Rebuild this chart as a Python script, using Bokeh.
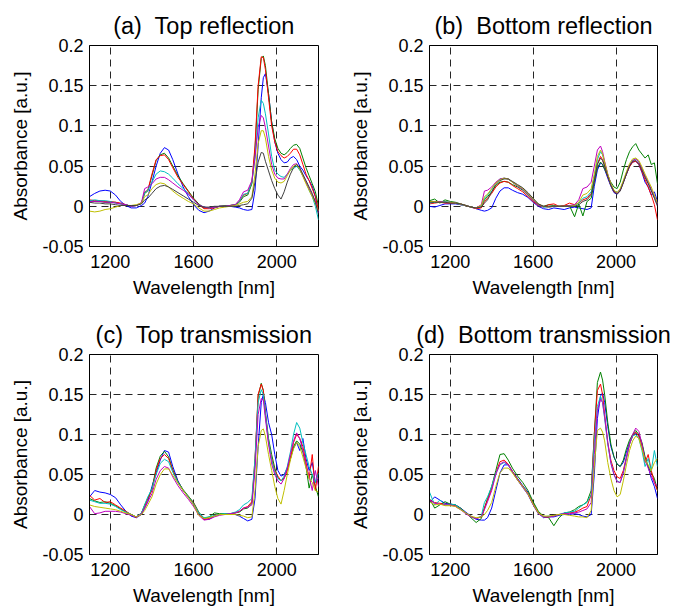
from bokeh.plotting import figure
from bokeh.layouts import gridplot
from bokeh.models import Range1d, FixedTicker
from bokeh.embed import file_html
from bokeh.resources import INLINE

# ---------------- data ----------------
WAVELENGTH = [1100, 1125, 1150, 1175, 1200, 1225, 1250, 1275, 1300, 1325,
              1350, 1365, 1380, 1400, 1420, 1440, 1460, 1480, 1500, 1525,
              1550, 1575, 1600, 1625, 1650, 1675, 1700, 1725, 1750, 1775,
              1800, 1820, 1840, 1860, 1880, 1895, 1910, 1925, 1935, 1945,
              1960, 1975, 1990, 2005, 2020, 2035, 2050, 2065, 2080, 2095,
              2110, 2125, 2140, 2155, 2170, 2185, 2200]

X_TICKS = [1200, 1600, 2000]
Y_TICKS = [-0.05, 0, 0.05, 0.1, 0.15, 0.2]
Y_TICK_LABELS = ["-0.05", "0", "0.05", "0.1", "0.15", "0.2"]
TITLES = ["(a)\u00a0 Top reflection", "(b)\u00a0 Bottom reflection",
          "(c)\u00a0 Top transmission", "(d)\u00a0 Bottom transmission"]

# (a) Top reflection
A_BLUE = [0.012, 0.016, 0.019, 0.020, 0.019, 0.014, 0.006, 0.001, -0.002, -0.002,
          0.001, 0.004, 0.012, 0.030, 0.050, 0.066, 0.073, 0.070, 0.058, 0.040,
          0.024, 0.012, 0.002, -0.005, -0.008, -0.006, -0.002, 0.000, 0.000, 0.000,
          -0.001, -0.002, -0.004, -0.005, -0.004, 0.020, 0.075, 0.135, 0.160, 0.165,
          0.140, 0.105, 0.080, 0.066, 0.058, 0.054, 0.055, 0.060, 0.062, 0.058,
          0.050, 0.045, 0.038, 0.032, 0.025, 0.012, -0.008]
A_GREEN = [0.007, 0.006, 0.006, 0.005, 0.005, 0.005, 0.003, 0.002, 0.000, 0.001,
           0.004, 0.016, 0.019, 0.038, 0.057, 0.064, 0.066, 0.060, 0.050, 0.038,
           0.028, 0.019, 0.010, 0.003, -0.002, -0.002, -0.001, 0.000, 0.001, 0.001,
           0.002, 0.005, 0.012, 0.014, 0.028, 0.070, 0.145, 0.184, 0.187, 0.175,
           0.140, 0.105, 0.084, 0.072, 0.066, 0.064, 0.067, 0.072, 0.076, 0.077,
           0.072, 0.060, 0.048, 0.038, 0.028, 0.018, 0.000]
A_RED = [0.008, 0.007, 0.007, 0.006, 0.006, 0.005, 0.004, 0.002, 0.000, 0.001,
         0.004, 0.018, 0.020, 0.040, 0.058, 0.063, 0.064, 0.058, 0.048, 0.036,
         0.027, 0.018, 0.009, 0.002, -0.003, -0.003, -0.002, 0.000, 0.000, 0.001,
         0.002, 0.006, 0.014, 0.016, 0.030, 0.075, 0.150, 0.186, 0.185, 0.170,
         0.135, 0.100, 0.080, 0.068, 0.063, 0.060, 0.062, 0.066, 0.071, 0.071,
         0.064, 0.052, 0.040, 0.032, 0.022, 0.012, -0.005]
A_CYAN = [0.007, 0.008, 0.007, 0.007, 0.006, 0.004, 0.003, 0.002, 0.000, 0.001,
          0.004, 0.017, 0.020, 0.030, 0.040, 0.044, 0.043, 0.040, 0.035, 0.028,
          0.022, 0.016, 0.008, 0.002, -0.001, -0.002, -0.001, 0.000, 0.000, 0.001,
          0.002, 0.006, 0.015, 0.016, 0.030, 0.060, 0.110, 0.132, 0.128, 0.115,
          0.090, 0.062, 0.045, 0.040, 0.037, 0.036, 0.040, 0.045, 0.047, 0.050,
          0.045, 0.038, 0.030, 0.020, 0.012, 0.000, -0.017]
A_MAGENTA = [0.006, 0.006, 0.006, 0.005, 0.005, 0.004, 0.003, 0.002, 0.000, 0.001,
             0.005, 0.022, 0.024, 0.028, 0.034, 0.036, 0.036, 0.033, 0.029, 0.024,
             0.020, 0.015, 0.008, 0.002, -0.001, -0.002, -0.001, 0.000, 0.000, 0.001,
             0.002, 0.008, 0.018, 0.020, 0.032, 0.060, 0.098, 0.113, 0.110, 0.098,
             0.075, 0.052, 0.040, 0.035, 0.034, 0.034, 0.040, 0.047, 0.052, 0.053,
             0.047, 0.038, 0.030, 0.022, 0.014, 0.006, -0.008]
A_YELLOW = [-0.006, -0.007, -0.006, -0.004, -0.003, -0.001, 0.001, 0.001, 0.001, 0.002,
            0.004, 0.012, 0.014, 0.022, 0.027, 0.029, 0.028, 0.024, 0.019, 0.014,
            0.010, 0.006, 0.003, -0.002, -0.006, -0.006, -0.004, -0.002, -0.001, 0.000,
            0.001, 0.003, 0.005, 0.006, 0.012, 0.040, 0.078, 0.094, 0.094, 0.085,
            0.062, 0.045, 0.035, 0.030, 0.029, 0.031, 0.038, 0.045, 0.050, 0.052,
            0.046, 0.037, 0.028, 0.020, 0.012, 0.004, -0.006]
A_GRAY = [0.005, 0.004, 0.004, 0.003, 0.003, 0.002, 0.001, 0.001, 0.001, 0.001,
          0.003, 0.008, 0.010, 0.016, 0.022, 0.025, 0.026, 0.024, 0.021, 0.017,
          0.013, 0.009, 0.005, 0.001, -0.001, -0.001, 0.000, 0.000, 0.000, 0.000,
          0.000, 0.001, 0.002, 0.003, 0.010, 0.030, 0.055, 0.067, 0.066, 0.056,
          0.044, 0.032, 0.022, 0.014, 0.009, 0.018, 0.030, 0.040, 0.048, 0.052,
          0.048, 0.040, 0.032, 0.024, 0.016, 0.005, -0.010]

# (b) Bottom reflection
B_BLUE = [0.000, -0.001, 0.001, 0.003, 0.003, 0.003, 0.002, 0.001, -0.001, -0.003,
          -0.005, -0.006, -0.005, -0.002, 0.010, 0.019, 0.023, 0.023, 0.020, 0.017,
          0.015, 0.011, 0.005, 0.000, -0.003, -0.004, -0.002, -0.003, -0.004, -0.002,
          -0.001, -0.002, -0.003, -0.004, -0.002, 0.025, 0.045, 0.054, 0.052, 0.046,
          0.035, 0.025, 0.017, 0.015, 0.020, 0.030, 0.040, 0.050, 0.055, 0.056,
          0.052, 0.042, 0.030, 0.024, 0.014, 0.018, 0.006]
B_GREEN = [0.007, 0.009, 0.004, 0.008, 0.006, 0.005, 0.003, 0.001, -0.001, -0.002,
           0.000, 0.008, 0.012, 0.018, 0.026, 0.030, 0.031, 0.030, 0.027, 0.024,
           0.020, 0.014, 0.007, 0.002, 0.000, 0.002, 0.001, 0.000, 0.001, 0.001,
           -0.013, 0.003, -0.012, 0.006, 0.010, 0.030, 0.048, 0.055, 0.052, 0.046,
           0.038, 0.030, 0.024, 0.022, 0.030, 0.045, 0.058, 0.068, 0.074, 0.078,
           0.070, 0.065, 0.060, 0.064, 0.052, 0.054, 0.028]
B_RED = [0.003, 0.004, 0.005, 0.004, 0.004, 0.004, 0.002, 0.001, -0.001, -0.003,
         -0.002, 0.006, 0.010, 0.016, 0.024, 0.029, 0.031, 0.030, 0.026, 0.022,
         0.018, 0.012, 0.006, 0.001, -0.001, 0.002, 0.003, 0.000, 0.001, 0.004,
         0.002, 0.004, 0.008, 0.010, 0.016, 0.033, 0.053, 0.062, 0.058, 0.050,
         0.037, 0.026, 0.018, 0.016, 0.020, 0.030, 0.040, 0.049, 0.055, 0.056,
         0.052, 0.043, 0.033, 0.024, 0.014, 0.002, -0.017]
B_CYAN = [0.004, 0.005, 0.006, 0.006, 0.005, 0.004, 0.002, 0.001, -0.001, -0.002,
          0.000, 0.010, 0.014, 0.021, 0.029, 0.034, 0.035, 0.034, 0.030, 0.025,
          0.021, 0.015, 0.008, 0.002, -0.001, -0.001, 0.000, 0.000, 0.000, 0.000,
          0.001, 0.004, 0.010, 0.012, 0.018, 0.036, 0.058, 0.068, 0.064, 0.054,
          0.039, 0.027, 0.019, 0.017, 0.021, 0.031, 0.041, 0.051, 0.057, 0.059,
          0.055, 0.047, 0.037, 0.029, 0.021, 0.011, 0.003]
B_MAGENTA = [0.006, 0.006, 0.006, 0.005, 0.005, 0.004, 0.003, 0.001, -0.001, -0.002,
             0.002, 0.019, 0.020, 0.024, 0.030, 0.034, 0.035, 0.034, 0.030, 0.025,
             0.021, 0.015, 0.008, 0.002, 0.000, -0.001, 0.000, 0.000, 0.000, 0.001,
             0.002, 0.008, 0.022, 0.024, 0.030, 0.050, 0.070, 0.075, 0.068, 0.056,
             0.040, 0.028, 0.019, 0.016, 0.020, 0.030, 0.041, 0.051, 0.057, 0.059,
             0.055, 0.047, 0.038, 0.030, 0.021, 0.012, 0.002]
B_YELLOW = [0.006, 0.006, 0.005, 0.005, 0.005, 0.004, 0.003, 0.001, -0.001, -0.002,
            0.001, 0.012, 0.015, 0.022, 0.029, 0.033, 0.035, 0.034, 0.030, 0.026,
            0.022, 0.016, 0.009, 0.003, 0.000, -0.001, 0.000, 0.000, 0.000, 0.000,
            0.001, 0.005, 0.014, 0.016, 0.022, 0.040, 0.062, 0.070, 0.065, 0.055,
            0.040, 0.028, 0.020, 0.017, 0.022, 0.032, 0.043, 0.053, 0.059, 0.060,
            0.057, 0.049, 0.040, 0.032, 0.024, 0.014, 0.004]
B_GRAY = [0.005, 0.005, 0.005, 0.005, 0.004, 0.004, 0.003, 0.001, -0.001, -0.002,
          -0.001, 0.004, 0.008, 0.018, 0.027, 0.032, 0.034, 0.034, 0.031, 0.027,
          0.023, 0.017, 0.010, 0.003, 0.000, 0.000, 0.000, 0.000, 0.000, 0.000,
          0.000, 0.002, 0.006, 0.008, 0.014, 0.032, 0.052, 0.060, 0.057, 0.050,
          0.037, 0.026, 0.018, 0.015, 0.019, 0.029, 0.040, 0.050, 0.056, 0.057,
          0.053, 0.045, 0.036, 0.028, 0.019, 0.010, 0.000]

# (c) Top transmission
C_BLUE = [0.022, 0.030, 0.028, 0.027, 0.025, 0.021, 0.012, 0.004, -0.002, -0.004,
          0.000, 0.008, 0.016, 0.035, 0.052, 0.068, 0.080, 0.078, 0.060, 0.042,
          0.030, 0.022, 0.013, 0.000, -0.006, -0.006, -0.002, 0.000, 0.000, 0.000,
          0.000, -0.002, -0.005, -0.008, -0.006, 0.020, 0.085, 0.140, 0.150, 0.140,
          0.115, 0.100, 0.075, 0.055, 0.048, 0.050, 0.058, 0.070, 0.083, 0.090,
          0.080, 0.095, 0.070, 0.055, 0.065, 0.040, 0.045]
C_GREEN = [0.020, 0.017, 0.015, 0.016, 0.014, 0.011, 0.007, 0.003, 0.000, -0.003,
           0.002, 0.012, 0.020, 0.032, 0.058, 0.073, 0.079, 0.072, 0.056, 0.041,
           0.031, 0.023, 0.015, 0.003, -0.005, -0.003, 0.002, 0.001, 0.001, 0.001,
           0.002, 0.003, 0.007, 0.008, 0.014, 0.065, 0.148, 0.164, 0.155, 0.128,
           0.095, 0.075, 0.058, 0.046, 0.042, 0.046, 0.056, 0.070, 0.085, 0.092,
           0.088, 0.078, 0.060, 0.033, 0.050, 0.035, 0.022]
C_RED = [0.024, 0.018, 0.020, 0.015, 0.016, 0.012, 0.008, 0.004, 0.000, -0.004,
         0.002, 0.010, 0.020, 0.030, 0.055, 0.070, 0.075, 0.070, 0.055, 0.040,
         0.030, 0.022, 0.014, 0.002, -0.006, -0.005, -0.001, 0.000, 0.000, 0.001,
         0.002, 0.004, 0.008, 0.010, 0.016, 0.070, 0.150, 0.163, 0.155, 0.125,
         0.090, 0.070, 0.055, 0.048, 0.042, 0.045, 0.055, 0.070, 0.090, 0.100,
         0.095, 0.085, 0.065, 0.045, 0.075, 0.030, 0.060]
C_CYAN = [0.018, 0.016, 0.014, 0.014, 0.013, 0.010, 0.006, 0.003, 0.000, -0.003,
          0.002, 0.012, 0.022, 0.032, 0.050, 0.064, 0.069, 0.066, 0.053, 0.040,
          0.030, 0.022, 0.013, 0.002, -0.004, -0.003, -0.001, 0.000, 0.001, 0.001,
          0.003, 0.006, 0.012, 0.015, 0.020, 0.070, 0.140, 0.156, 0.150, 0.125,
          0.092, 0.068, 0.053, 0.045, 0.042, 0.048, 0.060, 0.078, 0.100, 0.115,
          0.108, 0.090, 0.075, 0.060, 0.050, 0.040, 0.052]
C_MAGENTA = [0.010, 0.001, 0.002, 0.004, 0.004, 0.004, 0.003, 0.001, -0.001, -0.003,
             0.001, 0.008, 0.016, 0.026, 0.044, 0.055, 0.060, 0.058, 0.047, 0.036,
             0.027, 0.019, 0.010, -0.001, -0.007, -0.006, -0.003, -0.001, 0.000, 0.001,
             0.002, 0.004, 0.008, 0.009, 0.012, 0.055, 0.125, 0.145, 0.143, 0.120,
             0.088, 0.063, 0.050, 0.042, 0.038, 0.045, 0.058, 0.075, 0.092, 0.102,
             0.095, 0.080, 0.060, 0.048, 0.030, 0.055, 0.035]
C_YELLOW = [0.012, 0.010, 0.009, 0.008, 0.007, 0.006, 0.004, 0.002, 0.000, -0.003,
            0.000, 0.005, 0.012, 0.022, 0.038, 0.050, 0.057, 0.057, 0.049, 0.039,
            0.030, 0.021, 0.012, -0.001, -0.005, -0.004, -0.002, 0.000, 0.000, 0.000,
            0.000, -0.001, -0.002, -0.004, -0.003, 0.030, 0.085, 0.105, 0.107, 0.098,
            0.075, 0.055, 0.035, 0.020, 0.013, 0.030, 0.050, 0.068, 0.082, 0.090,
            0.085, 0.072, 0.058, 0.045, 0.040, 0.030, 0.028]

# (d) Bottom transmission
D_BLUE = [0.015, 0.022, 0.018, 0.014, 0.013, 0.012, 0.008, 0.003, -0.002, -0.006,
          -0.007, -0.007, -0.004, 0.008, 0.030, 0.052, 0.062, 0.062, 0.054, 0.045,
          0.036, 0.028, 0.014, 0.002, -0.004, -0.003, -0.003, -0.001, 0.000, 0.000,
          0.001, 0.000, -0.002, -0.003, 0.000, 0.050, 0.120, 0.148, 0.152, 0.140,
          0.110, 0.085, 0.072, 0.063, 0.060, 0.065, 0.078, 0.090, 0.098, 0.102,
          0.098, 0.088, 0.070, 0.060, 0.045, 0.035, 0.020]
D_GREEN = [0.020, 0.008, 0.012, 0.016, 0.013, 0.012, 0.008, 0.002, -0.004, -0.010,
           -0.005, 0.008, 0.020, 0.035, 0.055, 0.075, 0.076, 0.068, 0.058, 0.048,
           0.040, 0.030, 0.016, 0.004, -0.002, -0.004, -0.014, -0.004, 0.002, 0.003,
           0.006, 0.010, 0.012, 0.016, 0.030, 0.100, 0.165, 0.178, 0.168, 0.150,
           0.115, 0.088, 0.072, 0.063, 0.060, 0.068, 0.082, 0.093, 0.100, 0.105,
           0.100, 0.090, 0.072, 0.060, 0.052, 0.045, 0.030]
D_RED = [0.018, 0.015, 0.014, 0.013, 0.012, 0.011, 0.007, 0.002, -0.003, -0.005,
         -0.003, 0.008, 0.018, 0.032, 0.052, 0.066, 0.068, 0.063, 0.054, 0.044,
         0.035, 0.026, 0.013, 0.002, -0.003, -0.003, -0.002, 0.000, 0.001, 0.002,
         0.003, 0.005, 0.008, 0.010, 0.025, 0.100, 0.155, 0.163, 0.150, 0.125,
         0.090, 0.068, 0.055, 0.047, 0.045, 0.055, 0.072, 0.088, 0.098, 0.103,
         0.098, 0.085, 0.065, 0.075, 0.055, 0.040, 0.030]
D_CYAN = [0.028, 0.012, 0.018, 0.012, 0.013, 0.012, 0.007, 0.002, -0.003, -0.005,
          -0.002, 0.015, 0.022, 0.035, 0.052, 0.062, 0.065, 0.062, 0.053, 0.043,
          0.034, 0.025, 0.012, 0.001, -0.003, -0.002, -0.002, 0.000, 0.002, 0.003,
          0.004, 0.008, 0.012, 0.015, 0.025, 0.090, 0.135, 0.148, 0.140, 0.120,
          0.088, 0.065, 0.050, 0.042, 0.040, 0.052, 0.070, 0.088, 0.098, 0.100,
          0.095, 0.080, 0.060, 0.070, 0.055, 0.080, 0.060]
D_MAGENTA = [0.018, 0.014, 0.013, 0.012, 0.012, 0.010, 0.006, 0.001, -0.003, -0.005,
             -0.003, 0.006, 0.016, 0.030, 0.050, 0.063, 0.066, 0.062, 0.053, 0.043,
             0.034, 0.025, 0.012, 0.001, -0.003, -0.003, -0.002, 0.000, 0.001, 0.001,
             0.002, 0.003, 0.005, 0.007, 0.015, 0.075, 0.130, 0.144, 0.140, 0.122,
             0.090, 0.064, 0.050, 0.041, 0.040, 0.052, 0.070, 0.088, 0.100, 0.108,
             0.104, 0.088, 0.068, 0.058, 0.048, 0.040, 0.035]
D_YELLOW = [0.016, 0.012, 0.013, 0.011, 0.011, 0.010, 0.006, 0.002, -0.002, -0.004,
            -0.003, 0.000, 0.005, 0.015, 0.035, 0.052, 0.058, 0.058, 0.052, 0.043,
            0.035, 0.026, 0.013, 0.002, -0.002, -0.002, -0.001, 0.000, 0.000, -0.001,
            -0.002, -0.003, -0.003, -0.004, 0.005, 0.060, 0.105, 0.108, 0.103, 0.092,
            0.065, 0.045, 0.030, 0.022, 0.025, 0.042, 0.062, 0.080, 0.092, 0.098,
            0.095, 0.082, 0.068, 0.062, 0.055, 0.065, 0.070]

BLUE, GREEN, RED = "#0000FF", "#008000", "#FF0000"
CYAN, MAGENTA, YELLOW, GRAY = "#00BFBF", "#BF00BF", "#BFBF00", "#404040"

PANELS = [
    [(A_BLUE, BLUE), (A_GREEN, GREEN), (A_RED, RED), (A_CYAN, CYAN),
     (A_MAGENTA, MAGENTA), (A_YELLOW, YELLOW), (A_GRAY, GRAY)],
    [(B_BLUE, BLUE), (B_GREEN, GREEN), (B_RED, RED), (B_CYAN, CYAN),
     (B_MAGENTA, MAGENTA), (B_YELLOW, YELLOW), (B_GRAY, GRAY)],
    [(C_BLUE, BLUE), (C_GREEN, GREEN), (C_RED, RED), (C_CYAN, CYAN),
     (C_MAGENTA, MAGENTA), (C_YELLOW, YELLOW)],
    [(D_BLUE, BLUE), (D_GREEN, GREEN), (D_RED, RED), (D_CYAN, CYAN),
     (D_MAGENTA, MAGENTA), (D_YELLOW, YELLOW)],
]

FONT = "Liberation Sans"

# width, height, left, right, top, bottom borders
GEOM = [
    (336, 304, 89, 18, 45, 58),
    (337, 304, 93, 16, 45, 58),
    (336, 304, 89, 18, 50, 53),
    (337, 304, 93, 16, 50, 53),
]


def make_panel(i):
    w, h, bl, br, bt, bb = GEOM[i]
    p = figure(width=w, height=h, output_backend="svg", toolbar_location=None,
               x_range=Range1d(1100, 2200), y_range=Range1d(-0.05, 0.2),
               min_border_left=bl, min_border_right=br,
               min_border_top=bt, min_border_bottom=bb,
               title=TITLES[i])
    p.title.align = "center"
    p.title.text_font = FONT
    p.title.text_font_size = "23.5px"
    p.title.text_font_style = "normal"
    p.title.text_color = "black"
    p.title.standoff = 13

    p.xaxis.ticker = FixedTicker(ticks=X_TICKS)
    p.yaxis.ticker = FixedTicker(ticks=Y_TICKS)
    p.yaxis.major_label_overrides = {t: s for t, s in zip(Y_TICKS, Y_TICK_LABELS)}
    p.xaxis.axis_label = "Wavelength [nm]"
    p.yaxis.axis_label = "Absorbance [a.u.]"
    for ax in (p.xaxis[0], p.yaxis[0]):
        ax.axis_label_text_font = FONT
        ax.axis_label_text_font_size = "19px"
        ax.axis_label_text_font_style = "normal"
        ax.axis_label_text_color = "black"
        ax.major_label_text_font = FONT
        ax.major_label_text_font_size = "18px"
        ax.major_label_text_color = "black"
        ax.major_tick_line_color = None
        ax.minor_tick_line_color = None
        ax.major_tick_out = 0
        ax.major_tick_in = 0
        ax.minor_tick_out = 0
        ax.axis_line_color = "black"
    p.yaxis.major_label_standoff = 6
    p.yaxis.axis_label_standoff = 8
    p.xaxis.major_label_standoff = 8
    p.xaxis.axis_label_standoff = 6

    p.xgrid.ticker = FixedTicker(ticks=X_TICKS)
    p.ygrid.ticker = FixedTicker(ticks=[0, 0.05, 0.1, 0.15])
    for g in (p.xgrid[0], p.ygrid[0]):
        g.grid_line_color = "black"
        g.grid_line_alpha = 0.85
        g.grid_line_dash = "7 5"
        g.grid_line_width = 1

    p.outline_line_color = "black"
    p.outline_line_width = 1
    p.outline_line_alpha = 1
    p.background_fill_color = "white"
    p.border_fill_color = "white"

    for ys, col in PANELS[i]:
        p.line(WAVELENGTH, ys, line_color=col, line_width=1)
    return p


panels = [make_panel(i) for i in range(4)]
grid = gridplot([[panels[0], panels[1]], [panels[2], panels[3]]],
                toolbar_location=None)

open("out.html", "w").write(file_html(grid, INLINE))
